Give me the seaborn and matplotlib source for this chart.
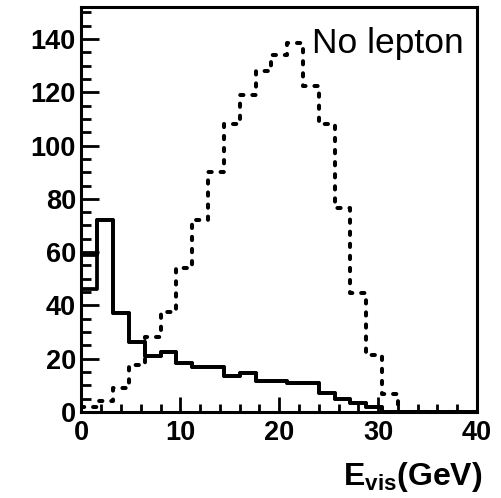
import numpy as np
import pandas as pd
import matplotlib
matplotlib.use("Agg")
import matplotlib.pyplot as plt
from matplotlib.ticker import MultipleLocator
import seaborn as sns

# ---- data ----
bin_edges = [round(1.6 * i, 2) for i in range(26)]          # 25 bins of 1.6 GeV
bin_centers = [round(0.8 + 1.6 * i, 2) for i in range(25)]
no_lepton_dotted = [2, 4, 9, 17.6, 28, 37.6, 54, 72, 90, 108, 119, 128, 134,
                    138.6, 122.4, 108, 76.5, 44.5, 21.5, 6.8, 0, 0, 0, 0, 0]
solid_a = [46, 72, 37, 26.4, 21, 22.5, 18.3, 17, 17, 13.5, 14.5, 11.8, 11.8,
           11, 11, 7, 5, 3.3, 2, 0, 0, 0, 0, 0, 0]
solid_b = [59, 72, 37, 26.4, 21, 22.5, 18.3, 17, 17, 13.5, 14.5, 11.8, 11.8,
           11, 11, 7, 5, 3.3, 2, 0, 0, 0, 0, 0, 0]
x_ticks = [0, 10, 20, 30, 40]
y_ticks = [0, 20, 40, 60, 80, 100, 120, 140]

df = pd.DataFrame({"E": bin_centers, "dotted": no_lepton_dotted,
                   "solid_a": solid_a, "solid_b": solid_b})

sns.set_style("white")
plt.rcParams["font.family"] = ["Liberation Sans", "DejaVu Sans"]
plt.rcParams["mathtext.fontset"] = "custom"
plt.rcParams["mathtext.rm"] = "Liberation Sans"
plt.rcParams["mathtext.bf"] = "Liberation Sans:bold"

fig = plt.figure(figsize=(5.02, 4.98), dpi=100)
ax = fig.add_axes([81.5 / 502, (498 - 412) / 498, (477 - 81.5) / 502, (412 - 7) / 498])

lw = 2.7
sns.histplot(data=df, x="E", weights="solid_b", bins=bin_edges, element="step",
             fill=False, color="black", linewidth=lw, ax=ax)
sns.histplot(data=df, x="E", weights="solid_a", bins=bin_edges, element="step",
             fill=False, color="black", linewidth=lw, ax=ax)
sns.histplot(data=df, x="E", weights="dotted", bins=bin_edges, element="step",
             fill=False, color="black", linewidth=2.9,
             linestyle=(0, (0.8, 2.2)), dash_capstyle="round", ax=ax)

ax.set_xlim(0, 40)
ax.set_ylim(0, 152)
ax.set_xticks(x_ticks)
ax.set_yticks(y_ticks)
ax.xaxis.set_minor_locator(MultipleLocator(2))
ax.yaxis.set_minor_locator(MultipleLocator(5))
ax.set_xlabel("")
ax.set_ylabel("")

for s in ax.spines.values():
    s.set_visible(True)
    s.set_linewidth(2.2)
    s.set_color("black")

ax.tick_params(axis="both", which="both", direction="in", colors="black",
               width=2.0, bottom=True, left=True, top=False, right=False)
ax.tick_params(axis="x", which="major", length=11, pad=6)
ax.tick_params(axis="x", which="minor", length=5.5)
ax.tick_params(axis="y", which="major", length=13, pad=4)
ax.tick_params(axis="y", which="minor", length=7)
for lab in ax.get_xticklabels() + ax.get_yticklabels():
    lab.set_fontsize(19.5)
    lab.set_fontweight("bold")

fig.text(311.7 / 502, (498 - 53) / 498, "No lepton", fontsize=25.5,
         ha="left", va="baseline", color="black")
fig.text(482 / 502, (498 - 485) / 498, r"$\mathbf{E_{vis}(GeV)}$", fontsize=23,
         ha="right", va="baseline", color="black")

fig.savefig("out.png", dpi=100, facecolor="white")
